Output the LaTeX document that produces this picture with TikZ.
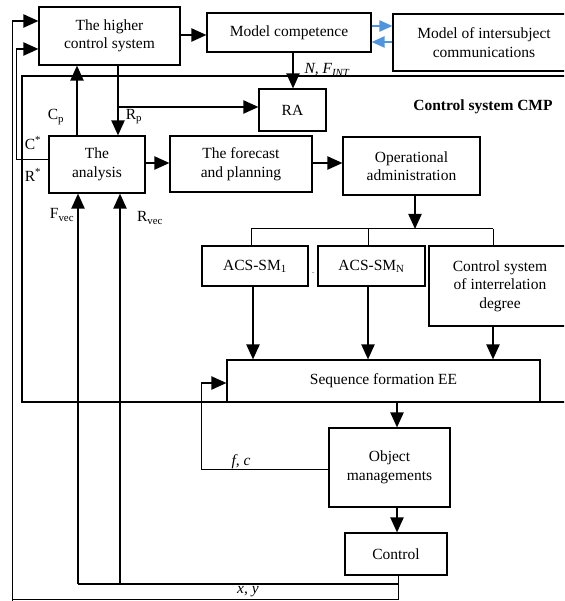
\documentclass[tikz,border=0pt]{standalone}
\usepackage{fontspec}
\setmainfont{Liberation Serif}
\usetikzlibrary{arrows.meta,calc}
\definecolor{arrblue}{RGB}{79,148,220}
\newcommand\dfont{\fontsize{15.5}{18.5}\selectfont}
\begin{document}
\begin{tikzpicture}[x=1pt,y=-1pt,
  box/.style={draw, line width=1.1pt, inner sep=0pt, align=center, font=\dfont},
  arr/.style={line width=2.1pt, -{Triangle[length=15pt,width=13pt]}},
  thinl/.style={line width=1pt},
  barr/.style={draw=arrblue, line width=2pt, -{Triangle[length=13pt,width=11pt]}},
  lbl/.style={inner sep=0pt, font=\dfont}]
\useasboundingbox (0,0) rectangle (564,601);
\clip (0,0) rectangle (564,601);
\fill[white] (0,0) rectangle (564,601);

% container
\node[draw, line width=1.1pt, inner sep=0pt, minimum width=558pt, minimum height=326pt] (cmp) at (301,239) {};
\node[lbl, font=\dfont\bfseries] (cmplbl) at (483,107) {Control system CMP};

% boxes
\node[box, minimum width=141pt, minimum height=58pt] (hcs) at (109.5,36) {The higher\\control system};
\node[box, minimum width=164pt, minimum height=39pt] (mc) at (289,32.5) {Model competence};
\node[box, minimum width=182pt, minimum height=57pt] (mic) at (484,42.5) {Model of intersubject\\communications};
\node[box, minimum width=67pt, minimum height=42pt] (ra) at (292.5,110) {RA};
\node[box, minimum width=96pt, minimum height=57pt] (ana) at (97,164.5) {The\\analysis};
\node[box, minimum width=142pt, minimum height=56pt] (fp) at (241,164) {The forecast\\and planning};
\node[box, minimum width=137pt, minimum height=58pt] (oa) at (411.5,166) {Operational\\administration};
\node[box, minimum width=106pt, minimum height=40pt] (acs1) at (255,266) {ACS-SM\textsubscript{1}};
\node[box, minimum width=107pt, minimum height=40pt] (acsn) at (371.5,266) {ACS-SM\textsubscript{N}};
\node[box, minimum width=142pt, minimum height=80pt] (csi) at (500,286) {Control system\\of interrelation\\degree};
\node[box, minimum width=313pt, minimum height=42pt] (seq) at (383.5,381) {Sequence formation EE};
\node[box, minimum width=121pt, minimum height=79pt] (om) at (389.5,467.5) {Object\\managements};
\node[box, minimum width=102pt, minimum height=42pt] (ctl) at (396,554) {Control};

% helper coordinates
\coordinate (y35) at (0,35);
\coordinate (y26) at (0,26);
\coordinate (y42) at (0,42);
\coordinate (x293) at (293,0);
\coordinate (x118) at (118,0);
\coordinate (x77) at (77,0);
\coordinate (x78) at (78,0);
\coordinate (x120) at (120,0);
\coordinate (y163) at (0,163);
\coordinate (x415) at (415,0);
\coordinate (x251) at (251,0);
\coordinate (x253) at (253,0);
\coordinate (x368) at (368,0);
\coordinate (x493) at (493,0);
\coordinate (x397) at (397,0);
\coordinate (x398) at (398,0);
\coordinate (rpb) at (118,107);
\coordinate (cs1) at (16,160);
\coordinate (cs2) at (16,49);
\coordinate (o1) at (12,601);
\coordinate (o2) at (12,21);
\coordinate (b1) at (398,599.5);
\coordinate (b2) at (12,599.5);
\coordinate (xy1) at (398,584);
\coordinate (xy2) at (78,584);
\coordinate (xy3) at (120,584);
\coordinate (bus) at (415,229);
\coordinate (busl) at (251,229);
\coordinate (busr) at (493,229);
\coordinate (fc1) at (201,469);
\coordinate (fc2) at (201,383);

% top connectors
\draw[arr] (hcs.east |- y35) -- (mc.west |- y35);
\draw[barr] (mc.east |- y26) -- (mic.west |- y26);
\draw[barr] (mic.west |- y42) -- (mc.east |- y42);
\draw[arr] (mc.south -| x293) -- (ra.north -| x293);
\draw[arr] (hcs.south -| x118) -- (ana.north -| x118);
\draw[arr] (rpb) -- (ra.west |- rpb);
\draw[arr] (ana.north -| x77) -- (hcs.south -| x77);
\draw[thinl] (ana.west |- cs1) -- (cs1) -- (cs2);
\draw[arr] (cs2) -- (hcs.west |- cs2);
\draw[thinl] (o1) -- (o2);
\draw[arr] (o2) -- (hcs.west |- o2);

% middle chain
\draw[arr] (ana.east |- y163) -- (fp.west |- y163);
\draw[arr] (fp.east |- y163) -- (oa.west |- y163);
\draw[arr] (oa.south -| x415) -- (bus);
\draw[thinl] (busl) -- (busr);
\draw[thinl] (busl) -- (acs1.north -| x251);
\draw[thinl] (x368 |- bus) -- (acsn.north -| x368);
\draw[thinl] (busr) -- (csi.north -| x493);
\draw[arr] (acs1.south -| x253) -- (seq.north -| x253);
\draw[arr] (acsn.south -| x368) -- (seq.north -| x368);
\draw[arr] (csi.south -| x493) -- (seq.north -| x493);
\draw[arr] (seq.south -| x397) -- (om.north -| x397);
\draw[arr] (om.south -| x397) -- (ctl.north -| x397);

% f, c feedback
\draw[thinl] (om.west |- fc1) -- (fc1) -- (fc2);
\draw[arr] (fc2) -- (seq.west |- fc2);

% x, y feedback
\draw[thinl] (ctl.south -| x398) -- (b1) -- (b2);
\draw[line width=2.1pt] (xy1) -- (xy2);
\draw[arr] (xy2) -- (ana.south -| x78);
\draw[arr] (xy3) -- (ana.south -| x120);

% labels
\node[lbl] (lnf) at (327,70) {\textit{N, F\textsubscript{INT}}};
\node[lbl] (lrp) at (134,117) {R\textsubscript{p}};
\node[lbl] (lcp) at (56,117) {C\textsubscript{p}};
\node[lbl] (lcs) at (33,143) {C\textsuperscript{*}};
\node[lbl] (lrs) at (33,175) {R\textsuperscript{*}};
\node[lbl] (lfv) at (62,215) {F\textsubscript{vec}};
\node[lbl] (lrv) at (150,218) {R\textsubscript{vec}};
\node[lbl] (lfc) at (241,462) {\textit{f, c}};
\node[lbl] (lxy) at (248,592) {\textit{x, y}};
\node[inner sep=0pt, font=\fontsize{6}{6}\selectfont] (ldots) at (313,273) {..};
\end{tikzpicture}
\end{document}
